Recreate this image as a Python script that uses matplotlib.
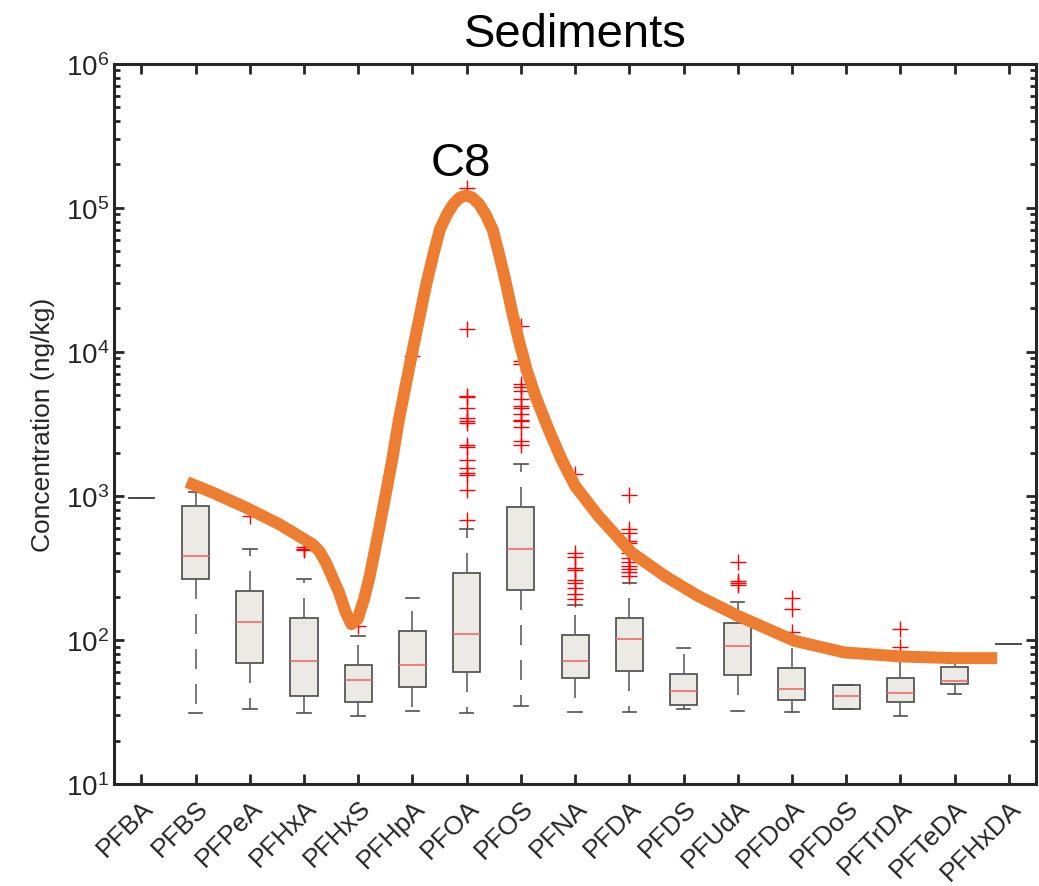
import numpy as np
import matplotlib
matplotlib.use("Agg")
import matplotlib.pyplot as plt
import matplotlib.transforms as mtransforms

plt.rcParams['font.family'] = ['Liberation Sans', 'DejaVu Sans']
plt.rcParams['mathtext.fontset'] = 'custom'
plt.rcParams['mathtext.rm'] = 'Liberation Sans'
plt.rcParams['mathtext.default'] = 'regular'

# ---------------------------
# data
# ---------------------------
compounds = ["PFBA", "PFBS", "PFPeA", "PFHxA", "PFHxS", "PFHpA", "PFOA", "PFOS", "PFNA",
             "PFDA", "PFDS", "PFUdA", "PFDoA", "PFDoS", "PFTrDA", "PFTeDA", "PFHxDA"]

q1 = [960, 264, 69, 41, 37, 47, 60, 222, 54, 61, 35.3, 57, 38.3, 33, 36.9, 49.3, 93.5]
med = [960, 383, 134, 71, 53, 67, 110, 426, 71, 101, 44, 90.6, 45.8, 40.7, 42.7, 52, 93.5]
q3 = [960, 847, 219, 142, 66.5, 116, 290, 843, 108, 142, 58, 132, 64, 48.3, 54.4, 64.7, 93.5]
whisk_lo = [960, 31, 33, 31, 29.8, 32, 31, 35, 31.6, 31.6, 33, 32, 31.6, 33, 29.8, 41.9, 93.5]
whisk_hi = [960, 1064, 425, 267, 106, 196, 589, 1664, 175, 250, 87.7, 184, 103, 48.3, 79, 69.7, 93.5]

outliers = [
    [],
    [],
    [726],
    [420, 430, 445],
    [125],
    [9330],
    [138000, 14450, 4930, 4880, 4045, 3450, 3300, 3185, 2253, 2197, 1775, 1572, 1435, 1390, 1099, 681],
    [15070, 8630, 8190, 5940, 5730, 5340, 4675, 4200, 4090, 3680, 3360, 3300, 3005, 2405, 2245],
    [1429, 404, 379, 318, 306, 261, 250, 231, 208, 192],
    [1010, 587, 556, 487, 474, 404, 373, 345, 327, 310, 294, 279],
    [],
    [348, 255, 248, 241],
    [197, 164, 113],
    [],
    [119, 89.6],
    [],
    [],
]

# hand-drawn trend curve (category position, ng/kg)
curve_x = [1.839, 2.317, 2.931, 3.544, 4.156, 4.279, 4.403, 4.647, 4.770, 4.873, 4.988, 5.107,
           5.212, 5.396, 5.628, 5.751, 5.995, 6.247, 6.394, 6.505, 6.634, 6.762, 6.873, 6.989,
           7.103, 7.222, 7.351, 7.480, 7.590, 7.710, 7.829, 7.958, 8.105, 8.270, 8.510, 8.749,
           9.001, 9.429, 10.042, 10.656, 11.268, 12.004, 13.047, 13.967, 15.008, 15.990, 16.786]
curve_y = [1248, 1054, 829, 636, 462, 415, 345, 213, 155.2, 128.7, 139.4, 191.8,
           278, 618, 1794, 3398, 9853, 28570, 48870, 70630, 89740, 106900, 117700, 121600,
           117700, 106900, 89740, 70630, 48870, 31770, 19680, 12190, 7550, 4909, 2897, 1794,
           1172, 726, 404, 278, 202, 147, 98.6, 81.9, 76.8, 74.8, 74.8]

# ---------------------------
# figure
# ---------------------------
fig = plt.figure(figsize=(10.39, 8.87), dpi=100)
ax = fig.add_axes([0.110, 0.115, 0.887, 0.812])

stats = []
for i in range(len(compounds)):
    stats.append(dict(label=compounds[i], med=med[i], q1=q1[i], q3=q3[i],
                      whislo=whisk_lo[i], whishi=whisk_hi[i], fliers=outliers[i]))

box_edge = "#4a4a4a"
pos = np.arange(1, len(compounds) + 1)
bp = ax.bxp(stats, positions=pos, widths=0.5, patch_artist=True,
            boxprops=dict(facecolor="#ebeae5", edgecolor=box_edge, linewidth=1.2),
            medianprops=dict(color="#f26a6a", linewidth=1.2),
            whiskerprops=dict(color="#606060", linewidth=1.2, linestyle=(0, (12, 9))),
            capprops=dict(color="#505050", linewidth=1.2),
            flierprops=dict(marker="+", markeredgecolor="red", markersize=11,
                            markeredgewidth=1.0, linestyle="none"))

# single-value groups: median line drawn grey like the box
for i in range(len(compounds)):
    if q1[i] == q3[i]:
        bp['medians'][i].set_color(box_edge)

ax.plot(curve_x, curve_y, color="#ed7d31", linewidth=8.6,
        solid_capstyle="butt", solid_joinstyle="round", zorder=5)

ax.text(6.9, 10 ** 5.23, "C8", ha="center", va="baseline", fontsize=34, color="black")

ax.set_yscale("log")
ax.set_ylim(10, 1e6)
ax.set_xlim(0.5, 17.5)
ax.set_xticks(pos)
ax.set_xticklabels(compounds, rotation=45, ha="right", va="top",
                   rotation_mode="anchor", fontsize=19, color="#262626")
shift = mtransforms.ScaledTranslation(0.09, 0, fig.dpi_scale_trans)
for lab in ax.get_xticklabels():
    lab.set_transform(lab.get_transform() + shift)

ax.set_yticks([1e1, 1e2, 1e3, 1e4, 1e5, 1e6])
ax.tick_params(axis="y", which="major", labelsize=20, labelcolor="#262626")
ax.tick_params(which="both", direction="in", top=True, right=True,
               color="#262626", width=2.0)
ax.tick_params(which="major", length=7)
ax.tick_params(which="minor", length=4.5)
ax.tick_params(axis="x", which="minor", bottom=False, top=False)
ax.tick_params(axis="x", pad=8)

for sp in ax.spines.values():
    sp.set_linewidth(2.2)
    sp.set_color("#262626")

ax.set_ylabel("Concentration (ng/kg)", fontsize=19, color="#262626", labelpad=8)
ax.set_title("Sediments", fontsize=34, pad=13)

fig.savefig("out.png", dpi=100)
